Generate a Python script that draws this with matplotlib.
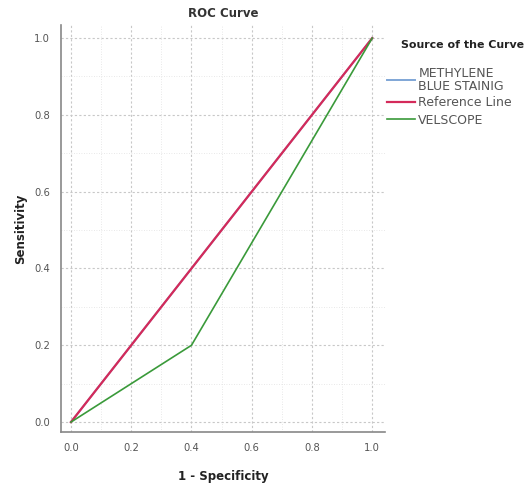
import matplotlib
matplotlib.use("Agg")
import matplotlib.pyplot as plt
import numpy as np

methylene_x = [0.0, 1.0]
methylene_y = [0.0, 1.0]
reference_x = [0.0, 1.0]
reference_y = [0.0, 1.0]
velscope_x = [0.0, 0.4, 1.0]
velscope_y = [0.0, 0.2, 1.0]
ticks = [0.0, 0.2, 0.4, 0.6, 0.8, 1.0]
tick_labels = ["0.0", "0.2", "0.4", "0.6", "0.8", "1.0"]

fig = plt.figure(figsize=(5.28, 4.91), dpi=100)
ax = fig.add_axes([0.1155, 0.120, 0.614, 0.829])

ax.plot(methylene_x, methylene_y, color="#7fa6d6", lw=1.4, label="METHYLENE\nBLUE STAINIG")
ax.plot(reference_x, reference_y, color="#d42a5a", lw=1.6, label="Reference Line")
ax.plot(velscope_x, velscope_y, color="#3a9a3a", lw=1.2, label="VELSCOPE")

ax.set_xlim(-0.033, 1.043)
ax.set_ylim(-0.026, 1.034)
ax.set_xticks(ticks)
ax.set_xticklabels(tick_labels)
ax.set_yticks(ticks)
ax.set_yticklabels(tick_labels)
ax.set_xticks(np.arange(0, 1.001, 0.1), minor=True)
ax.set_yticks(np.arange(0, 1.001, 0.1), minor=True)
ax.grid(True, which="major", color="#c8c8c8", ls=(0, (2, 2)), lw=0.8)
ax.grid(True, which="minor", color="#e0e0e0", ls=(0, (1, 2)), lw=0.6)
ax.tick_params(which="both", length=0, labelsize=7.2, colors="#555555")
ax.tick_params(axis="x", pad=8)
ax.tick_params(axis="y", pad=8)
for s in ["top", "right"]:
    ax.spines[s].set_visible(False)
for s in ["left", "bottom"]:
    ax.spines[s].set_color("#888888")
    ax.spines[s].set_linewidth(1.2)

ax.set_title("ROC Curve", fontsize=8.5, fontweight="bold", color="#333333", pad=6)
ax.set_xlabel("1 - Specificity", fontsize=8.5, fontweight="bold", color="#222222", labelpad=12)
ax.set_ylabel("Sensitivity", fontsize=8.5, fontweight="bold", color="#222222", labelpad=5)

fig.text(401 / 528, 1 - 45 / 491, "Source of the Curve", fontsize=7.9, fontweight="bold",
         color="#222222", ha="left", va="center")

leg = fig.legend(loc="upper left", bbox_to_anchor=(387 / 528, 1 - 67 / 491), frameon=False,
                 fontsize=9, handlelength=2.2, handletextpad=0.3, labelspacing=0.32,
                 borderaxespad=0, borderpad=0)
for t in leg.get_texts():
    t.set_color("#555555")
    t.set_linespacing(0.95)

fig.savefig("out.png", dpi=100)
